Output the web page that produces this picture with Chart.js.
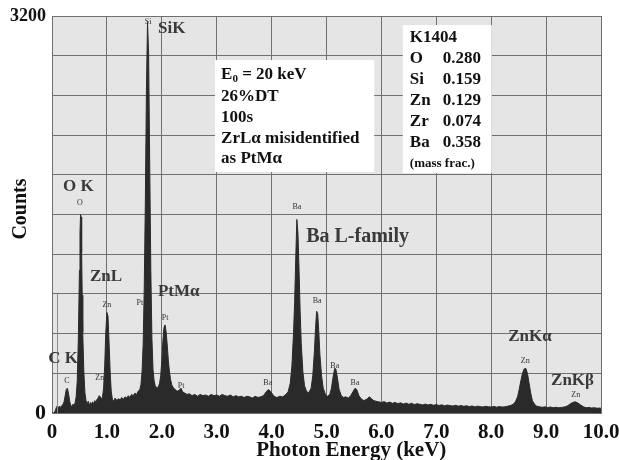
<!DOCTYPE html>
<html>
<head>
<meta charset="utf-8">
<script src="https://cdn.jsdelivr.net/npm/chart.js@4.4.1/dist/chart.umd.min.js"></script>
<style>
html,body{margin:0;padding:0;background:#ffffff;}
#c{display:block;}
</style>
</head>
<body>
<canvas id="c" width="619" height="460"></canvas>
<script>
// ---------- DATA ----------
const energyKeV = [
  0.00,0.04,0.06,0.08,0.10,0.12,0.14,0.16,0.18,0.20,0.22,0.24,0.26,0.28,0.30,0.32,0.34,0.36,0.38,0.40,0.42,
  0.44,0.46,0.48,0.50,0.51,0.52,0.53,0.54,0.55,0.56,0.58,0.60,0.62,0.64,
  0.66,0.68,0.70,0.72,0.74,0.76,0.78,0.80,0.82,0.84,0.86,0.88,0.90,0.92,
  0.94,0.96,0.98,1.00,1.02,1.04,1.06,1.08,1.10,1.12,
  1.15,1.18,1.21,1.24,1.27,1.30,1.33,1.36,1.39,1.42,1.45,1.48,1.51,1.54,1.57,1.60,
  1.62,1.64,1.66,1.68,1.70,1.72,1.74,1.76,1.78,1.80,1.82,1.84,1.86,1.88,1.90,1.92,1.94,1.96,
  1.98,2.00,2.02,2.04,2.06,2.08,2.10,2.12,2.14,2.16,2.18,2.20,
  2.24,2.28,2.32,2.35,2.38,2.42,2.46,2.50,2.55,2.60,2.65,2.70,2.75,2.80,2.85,2.90,2.95,3.00,3.05,3.10,3.15,3.20,3.25,3.30,3.35,3.40,3.45,3.50,3.55,3.60,3.65,3.70,3.75,3.80,3.85,
  3.90,3.94,3.98,4.02,4.06,4.10,4.15,4.20,4.25,4.30,
  4.34,4.37,4.40,4.42,4.44,4.46,4.48,4.50,4.52,4.54,4.57,4.60,4.64,4.68,
  4.72,4.75,4.78,4.80,4.82,4.84,4.86,4.88,4.91,4.94,4.98,5.02,
  5.06,5.09,5.12,5.15,5.17,5.20,5.23,5.27,5.31,5.35,5.40,5.44,5.48,5.52,5.55,5.59,5.63,5.68,5.73,5.78,5.82,5.86,5.90,
  5.95,6.00,6.05,6.10,6.15,6.20,6.25,6.30,6.35,6.40,6.45,6.50,6.55,6.60,6.65,6.70,6.75,6.80,6.85,6.90,6.95,7.00,7.05,7.10,7.15,7.20,7.25,7.30,7.35,7.40,7.45,7.50,7.55,7.60,7.65,7.70,7.75,7.80,7.85,7.90,7.95,8.00,8.05,8.10,8.15,8.20,8.25,8.30,8.35,
  8.40,8.44,8.48,8.51,8.54,8.57,8.60,8.63,8.66,8.69,8.72,8.75,8.79,8.83,8.88,
  8.93,8.98,9.03,9.08,9.13,9.18,9.23,9.28,9.33,9.38,9.43,9.48,9.53,9.58,9.63,9.68,9.73,9.78,9.83,9.88,9.93,9.97,10.00
];
const counts = [
  0,0,20,45,60,40,55,45,60,70,90,140,190,200,160,100,60,55,70,65,80,
  130,260,600,1150,1450,1600,1580,1300,950,650,330,160,100,70,
  95,60,85,70,90,75,100,85,110,120,140,130,110,130,
  200,380,650,810,780,560,320,170,110,95,
  120,100,115,105,125,110,130,120,140,125,150,140,160,150,175,190,
  230,330,550,1000,1700,2600,3150,2900,2000,1150,600,350,260,220,210,200,215,240,
  300,420,580,690,710,650,540,420,330,270,230,210,
  190,175,185,200,170,160,150,155,140,150,135,150,140,145,135,150,140,145,135,150,140,135,145,130,140,130,135,125,135,130,120,135,125,130,140,
  170,190,175,150,130,125,135,130,145,170,
  240,380,650,900,1250,1560,1450,1150,820,560,330,220,170,165,
  200,300,500,680,820,800,650,470,300,200,150,135,
  150,200,290,360,355,280,190,140,125,130,120,140,170,200,190,140,115,100,110,130,115,100,95,
  90,85,92,80,88,78,85,75,82,72,80,70,78,68,75,70,65,72,64,70,62,68,60,66,58,64,60,56,62,55,60,54,58,52,57,50,55,52,48,54,50,48,53,47,52,48,50,55,60,
  70,90,130,190,260,320,355,360,320,240,160,100,70,55,50,
  46,50,44,48,43,46,42,45,48,55,70,85,90,80,65,50,42,45,40,43,38,40,38
];
// thin vertical marker line near the low-energy edge
const edgeLineKeV = [0.1, 0.1];
const edgeLineCounts = [0, 960];

const xTickLabels = ['0','1.0','2.0','3.0','4.0','5.0','6.0','7.0','8.0','9.0','10.0'];
const yTickLabels = {0:'0', 3200:'3200'};

const peakLabels = ['SiK','O K','ZnL','PtM\u03B1','Ba L-family','C K','ZnK\u03B1','ZnK\u03B2'];
const peakLabelKeV = [1.93, 0.20, 0.69, 1.93, 4.63, -0.07, 8.31, 9.09];
const peakLabelCounts = [3095, 1822, 1096, 975, 1419, 435, 613, 258];

const markerLabels = ['Si','O','Zn','Pt','Pt','C','Zn','Pt','Ba','Ba','Ba','Ba','Ba','Zn','Zn'];
const markerKeV = [1.75, 0.51, 1.00, 1.60, 2.06, 0.27, 0.87, 2.35, 4.46, 4.83, 5.15, 5.52, 3.93, 8.62, 9.54];
const markerCounts = [3151, 1693, 870, 887, 766, 258, 282, 218, 1660, 903, 379, 242, 242, 419, 145];

const conditionLines = ['E0 = 20 keV', '26%DT', '100s', 'ZrL\u03B1 misidentified', 'as PtM\u03B1'];
const compTitle = 'K1404';
const compElements = ['O', 'Si', 'Zn', 'Zr', 'Ba'];
const compMassFrac = ['0.280', '0.159', '0.129', '0.074', '0.358'];
const compNote = '(mass frac.)';

// ---------- STYLE / LAYOUT ----------
const SERIF = "'Liberation Serif', 'Times New Roman', serif";
const GRID = '#707070';

if (energyKeV.length !== counts.length) console.error('length mismatch', energyKeV.length, counts.length);

const spectrum = energyKeV.map((e, i) => ({x: e, y: counts[i]}));
const edgeLine = edgeLineKeV.map((e, i) => ({x: e, y: edgeLineCounts[i]}));

const overlay = {
  id: 'overlay',
  beforeDraw(chart) {
    const {ctx, chartArea: a} = chart;
    ctx.save();
    ctx.fillStyle = '#ffffff';
    ctx.fillRect(0, 0, chart.width, chart.height);
    ctx.fillStyle = '#e5e5e5';
    ctx.fillRect(a.left, a.top, a.right - a.left, a.bottom - a.top);
    ctx.restore();
  },
  afterDraw(chart) {
    const {ctx, scales: {x, y}} = chart;
    const px = v => x.getPixelForValue(v);
    const py = v => y.getPixelForValue(v);
    ctx.save();

    // ---- conditions box ----
    const b1 = {l: px(2.97), r: px(5.87), t: py(2845), b: py(1942)};
    ctx.fillStyle = '#ffffff';
    ctx.fillRect(b1.l, b1.t, b1.r - b1.l, b1.b - b1.t);
    ctx.fillStyle = '#111111';
    ctx.textBaseline = 'middle';
    ctx.textAlign = 'left';
    const f17 = 'bold 17px ' + SERIF;
    const lineOff = [15, 37, 58, 79, 99];
    conditionLines.forEach((t, i) => {
      const yy = b1.t + lineOff[i];
      const xx = b1.l + 6;
      if (i === 0) {
        ctx.font = f17;
        ctx.fillText('E', xx, yy);
        const w = ctx.measureText('E').width;
        ctx.font = 'bold 11px ' + SERIF;
        ctx.fillText('0', xx + w, yy + 4);
        const w2 = ctx.measureText('0').width;
        ctx.font = f17;
        ctx.fillText(' = 20 keV', xx + w + w2, yy);
      } else {
        ctx.font = f17;
        ctx.fillText(t, xx, yy);
      }
    });

    // ---- composition box ----
    const b2 = {l: px(6.39), r: px(8.01), t: py(3127), b: py(1934)};
    ctx.fillStyle = '#ffffff';
    ctx.fillRect(b2.l, b2.t, b2.r - b2.l, b2.b - b2.t);
    ctx.fillStyle = '#111111';
    ctx.font = f17;
    ctx.fillText(compTitle, b2.l + 7, b2.t + 13);
    compElements.forEach((el, i) => {
      const yy = b2.t + 34 + i * 21;
      ctx.fillText(el, b2.l + 7, yy);
      ctx.fillText(compMassFrac[i], b2.l + 40, yy);
    });
    ctx.font = 'bold 13px ' + SERIF;
    ctx.fillText(compNote, b2.l + 7, b2.t + 139);

    // ---- peak labels ----
    ctx.fillStyle = '#3a3a3a';
    peakLabels.forEach((t, i) => {
      ctx.font = (t === 'Ba L-family' ? 'bold 20px ' : 'bold 17px ') + SERIF;
      ctx.fillText(t, px(peakLabelKeV[i]), py(peakLabelCounts[i]));
    });

    // ---- small element markers ----
    ctx.fillStyle = '#333333';
    ctx.textAlign = 'center';
    ctx.font = '8px ' + SERIF;
    markerLabels.forEach((t, i) => {
      ctx.fillText(t, px(markerKeV[i]), py(markerCounts[i]));
    });

    // ---- axis titles ----
    ctx.fillStyle = '#111111';
    ctx.font = 'bold 21px ' + SERIF;
    ctx.textAlign = 'center';
    ctx.textBaseline = 'alphabetic';
    ctx.fillText('Photon Energy (keV)', px(5.45), chart.height - 4);
    ctx.save();
    ctx.translate(21, py(1644));
    ctx.rotate(-Math.PI / 2);
    ctx.textBaseline = 'middle';
    ctx.font = 'bold 20px ' + SERIF;
    ctx.fillText('Counts', 0, 0);
    ctx.restore();

    ctx.restore();
  }
};

new Chart(document.getElementById('c'), {
  type: 'line',
  data: {
    datasets: [
      {
        data: edgeLine,
        borderColor: '#8c8c8c',
        borderWidth: 1,
        pointRadius: 0,
        fill: false
      },
      {
        data: spectrum,
        borderColor: '#2a2a2a',
        backgroundColor: '#2a2a2a',
        borderWidth: 1,
        pointRadius: 0,
        tension: 0,
        fill: 'origin'
      }
    ]
  },
  options: {
    responsive: false,
    animation: false,
    devicePixelRatio: 1,
    layout: {padding: {top: 16, right: 18, left: 0, bottom: 0}},
    plugins: {legend: {display: false}, tooltip: {enabled: false}},
    scales: {
      x: {
        type: 'linear',
        min: 0, max: 10,
        afterFit: s => { s.height = 47; s.paddingRight = 0; s.paddingLeft = 0; },
        ticks: {
          stepSize: 1,
          padding: 7,
          color: '#111111',
          font: {family: SERIF, size: 21, weight: 'bold'},
          maxRotation: 0,
          callback: (v) => xTickLabels[Math.round(v)] ?? ''
        },
        grid: {color: GRID, lineWidth: 1, drawTicks: false},
        border: {color: GRID, width: 1}
      },
      y: {
        type: 'linear',
        min: 0, max: 3200,
        afterFit: s => { s.width = 52; s.paddingTop = 0; s.paddingBottom = 0; },
        ticks: {
          stepSize: 320,
          padding: 6,
          color: '#111111',
          font: (ctx) => ({family: SERIF, size: (ctx.tick && ctx.tick.value === 0) ? 22 : 18, weight: 'bold'}),
          callback: (v) => yTickLabels[v] ?? ''
        },
        grid: {color: GRID, lineWidth: 1, drawTicks: false},
        border: {color: GRID, width: 1}
      }
    }
  },
  plugins: [overlay]
});
</script>
</body>
</html>
